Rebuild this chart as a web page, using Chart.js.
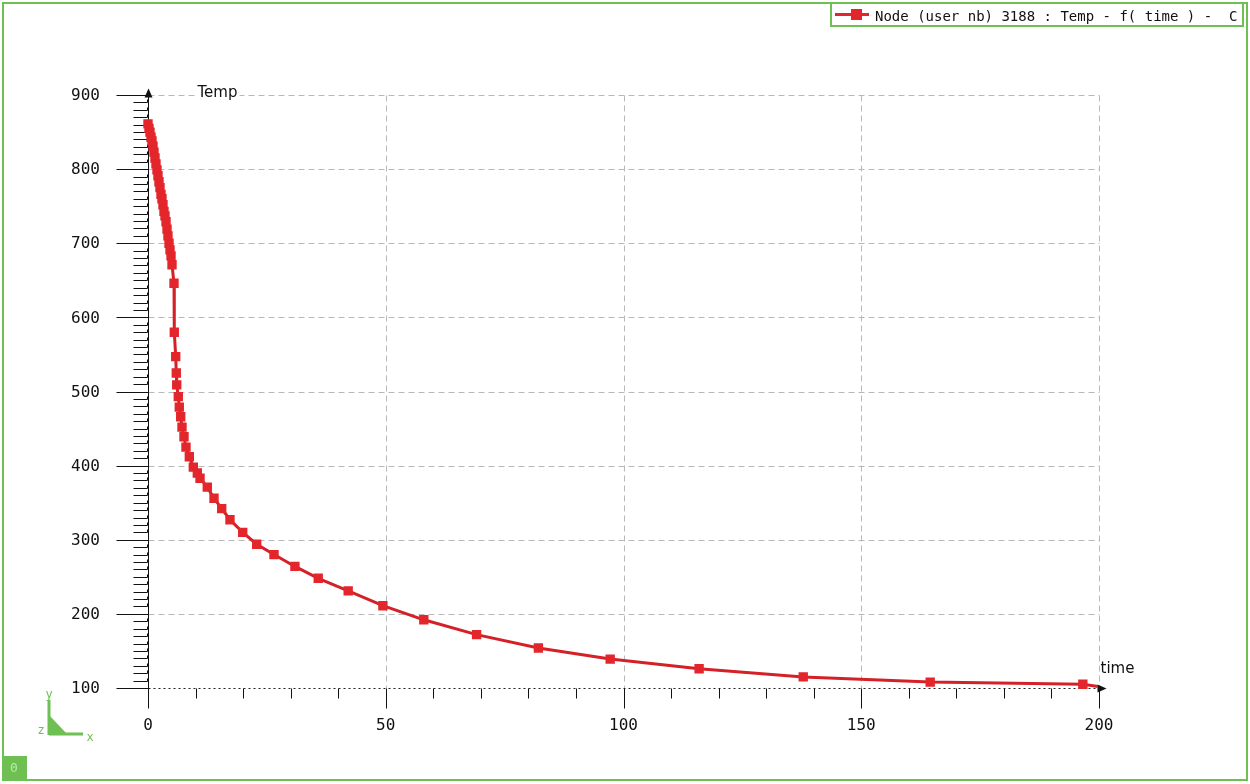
<!DOCTYPE html>
<html>
<head>
<meta charset="utf-8">
<title>Node 3188 : Temp - f(time)</title>
<script src="https://cdn.jsdelivr.net/npm/chart.js@4/dist/chart.umd.min.js"></script>
<style>
  body { margin: 0; background: #fff; }
  #wrap { width: 1250px; height: 784px; }
</style>
</head>
<body>
<div id="wrap"><canvas id="chart" width="1250" height="784"></canvas></div>
<script>
// values
const timeValues = [0, 0.21, 0.42, 0.63, 0.84, 1.05, 1.26, 1.47, 1.68, 1.89,
  2.1, 2.31, 2.52, 2.73, 2.94, 3.15, 3.36, 3.57, 3.79, 4.0,
  4.2, 4.42, 4.63, 4.84, 5.05, 5.47, 5.53, 5.83, 5.95, 6.04,
  6.37, 6.58, 6.88, 7.15, 7.57, 7.99, 8.69, 9.53, 10.37, 10.94,
  12.47, 13.88, 15.5, 17.24, 19.92, 22.86, 26.5, 30.9, 35.8, 42.1,
  49.4, 58.0, 69.1, 82.1, 97.2, 115.9, 137.8, 164.5, 196.6, 199.8];
const tempValues = [861, 855, 850, 843, 838, 831, 823, 815, 807, 799,
  791, 783, 775, 766, 760, 752, 743, 737, 729, 719,
  710, 700, 691, 683, 671, 646, 580, 547, 525, 509,
  493, 479, 466, 452, 439, 425, 412, 398, 390, 383,
  371, 356, 342, 327, 310, 294, 280, 264, 248, 231,
  211, 192, 172, 154, 139, 126, 115, 108, 105, 102];
const xTickValues = [0, 50, 100, 150, 200];
const yTickValues = [100, 200, 300, 400, 500, 600, 700, 800, 900];
const minorStep = 10;
const legendLabel = 'Node (user nb) 3188 : Temp - f( time ) -  C';
const xTitle = 'time';
const yTitle = 'Temp';

const RED = '#e3262b';
const GREEN = '#6fc053';

function seg(ctx, x1, y1, x2, y2) {
    ctx.beginPath();
    ctx.moveTo(x1, y1);
    ctx.lineTo(x2, y2);
    ctx.stroke();
}

const decor = {
    id: 'decor',
    beforeDatasetsDraw(chart) {
        const { ctx, scales: { x, y } } = chart;
        const xMin = xTickValues[0], xMax = xTickValues[xTickValues.length - 1];
        const yMin = yTickValues[0], yMax = yTickValues[yTickValues.length - 1];
        const left = Math.round(x.getPixelForValue(xMin)) + 0.5;
        const right = Math.round(x.getPixelForValue(xMax)) + 0.5;
        const top = Math.round(y.getPixelForValue(yMax)) + 0.5;
        const bottom = Math.round(y.getPixelForValue(yMin)) + 0.5;
        ctx.save();

        // dashed grid
        ctx.strokeStyle = '#b8b8b8';
        ctx.lineWidth = 1;
        ctx.setLineDash([6, 4]);
        yTickValues.forEach(v => {
            if (v === yMin) return;
            const py = Math.round(y.getPixelForValue(v)) + 0.5;
            seg(ctx, left, py, right, py);
        });
        xTickValues.forEach(v => {
            if (v === xMin) return;
            const px = Math.round(x.getPixelForValue(v)) + 0.5;
            seg(ctx, px, top, px, bottom);
        });

        // x axis, dotted
        ctx.strokeStyle = '#222';
        ctx.setLineDash([2, 3]);
        seg(ctx, left, bottom, right, bottom);
        ctx.setLineDash([]);

        // y axis
        ctx.strokeStyle = '#111';
        seg(ctx, left, top, left, bottom + 20);

        // y ticks
        for (let v = yMin; v <= yMax; v += minorStep) {
            const py = Math.round(y.getPixelForValue(v)) + 0.5;
            if (yTickValues.includes(v)) {
                seg(ctx, left - 32, py, left, py);
            } else {
                seg(ctx, left - 15, py, left - 1, py);
                seg(ctx, left - 1, py, left - 1, py - 3);
            }
        }
        // x ticks
        for (let v = xMin + minorStep; v <= xMax; v += minorStep) {
            const px = Math.round(x.getPixelForValue(v)) + 0.5;
            const len = xTickValues.includes(v) ? 20 : 10;
            seg(ctx, px, bottom, px, bottom + len);
        }

        // arrows
        ctx.fillStyle = '#111';
        ctx.beginPath();
        ctx.moveTo(left, top - 7);
        ctx.lineTo(left - 4, top + 2);
        ctx.lineTo(left + 4, top + 2);
        ctx.closePath();
        ctx.fill();
        ctx.beginPath();
        ctx.moveTo(right + 7, bottom);
        ctx.lineTo(right - 2, bottom - 4);
        ctx.lineTo(right - 2, bottom + 4);
        ctx.closePath();
        ctx.fill();

        // tick labels
        ctx.font = '16px "DejaVu Sans Mono"';
        ctx.textBaseline = 'middle';
        ctx.textAlign = 'right';
        yTickValues.forEach(v => {
            ctx.fillText(String(v), 100, y.getPixelForValue(v) + 1);
        });
        ctx.textAlign = 'center';
        xTickValues.forEach(v => {
            ctx.fillText(String(v), x.getPixelForValue(v), bottom + 37);
        });

        // axis titles
        ctx.font = '15px "DejaVu Sans"';
        ctx.textAlign = 'left';
        ctx.textBaseline = 'alphabetic';
        ctx.fillStyle = '#fff';
        ctx.fillRect(left + 47, top - 12, ctx.measureText(yTitle).width + 4, 14);
        ctx.fillStyle = '#111';
        ctx.fillText(yTitle, left + 49, top + 1);
        ctx.fillText(xTitle, right + 1, bottom - 16);
        ctx.restore();
    },
    afterDraw(chart) {
        const { ctx, width, height } = chart;
        ctx.save();

        // outer frame
        ctx.strokeStyle = GREEN;
        ctx.lineWidth = 2;
        ctx.strokeRect(3, 3, width - 6, height - 7);

        // legend box
        ctx.fillStyle = '#fff';
        ctx.fillRect(831, 3, 412, 23);
        ctx.strokeRect(831, 3, 412, 23);
        ctx.strokeStyle = RED;
        ctx.lineWidth = 3;
        seg(ctx, 835, 14.5, 869, 14.5);
        ctx.fillStyle = RED;
        ctx.fillRect(851, 9, 11, 11);
        ctx.save();
        ctx.beginPath();
        ctx.rect(872, 4, 368, 21);
        ctx.clip();
        ctx.fillStyle = '#111';
        ctx.font = '14px "DejaVu Sans Mono"';
        ctx.textBaseline = 'alphabetic';
        ctx.textAlign = 'left';
        ctx.fillText(legendLabel, 875, 21);
        ctx.restore();

        // axis triad, bottom left
        ctx.fillStyle = GREEN;
        ctx.strokeStyle = GREEN;
        ctx.lineWidth = 3;
        seg(ctx, 49, 700, 49, 735);
        seg(ctx, 49, 734, 83, 734);
        ctx.beginPath();
        ctx.moveTo(49, 715);
        ctx.lineTo(67, 734);
        ctx.lineTo(49, 734);
        ctx.closePath();
        ctx.fill();
        ctx.font = '12px "DejaVu Sans Mono"';
        ctx.textAlign = 'center';
        ctx.textBaseline = 'middle';
        ctx.fillText('y', 49, 695);
        ctx.fillText('z', 41, 731);
        ctx.fillText('x', 90, 738);

        // view box "0"
        ctx.fillRect(2, 756, 25, 24);
        ctx.fillStyle = '#b9e8a8';
        ctx.font = '13px "DejaVu Sans Mono"';
        ctx.fillText('0', 14, 769);
        ctx.restore();
    }
};

const chart = new Chart(document.getElementById('chart'), {
    type: 'line',
    data: {
        datasets: [{
            label: legendLabel,
            data: timeValues.map((t, i) => ({ x: t, y: tempValues[i] })),
            borderColor: '#d42127',
            borderWidth: 3,
            backgroundColor: RED,
            pointBackgroundColor: RED,
            pointBorderColor: RED,
            pointStyle: 'rect',
            pointRadius: ctx => (ctx.dataIndex === timeValues.length - 1 ? 0 : 4.5),
            tension: 0,
            fill: false,
            clip: false
        }]
    },
    options: {
        responsive: false,
        animation: false,
        layout: { padding: { left: 148, right: 151, top: 95, bottom: 96 } },
        scales: {
            x: { type: 'linear', min: 0, max: 200, display: false },
            y: { type: 'linear', min: 100, max: 900, display: false }
        },
        plugins: {
            legend: { display: false },
            tooltip: { enabled: false }
        }
    },
    plugins: [decor]
});
</script>
</body>
</html>
